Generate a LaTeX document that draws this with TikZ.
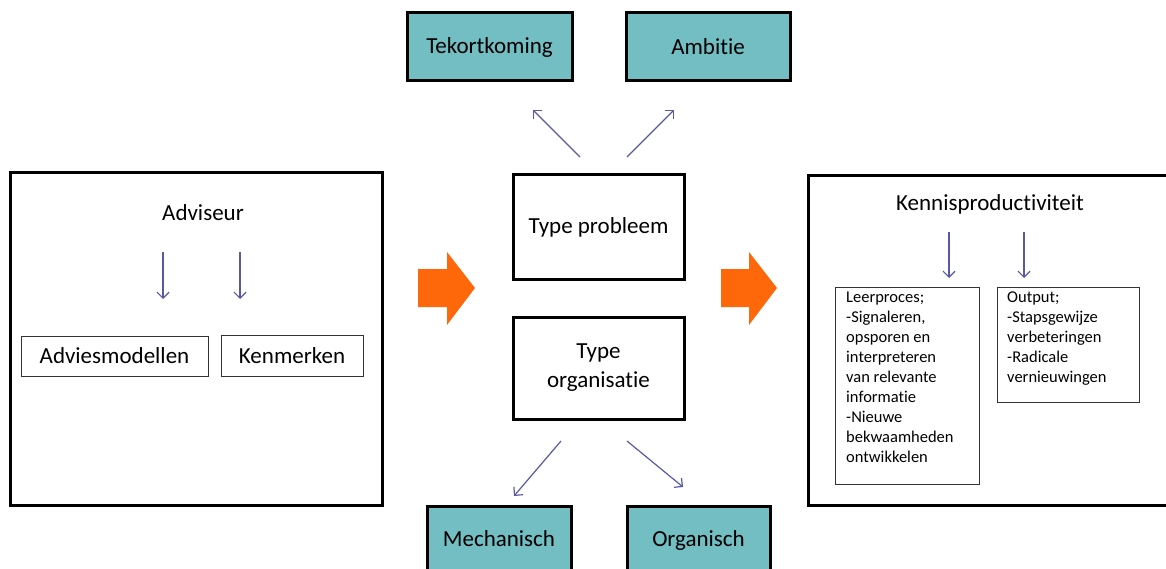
\documentclass[tikz,border=0pt]{standalone}
\usepackage{fontspec}
\setmainfont{Carlito}[Ligatures=NoCommon]
\usetikzlibrary{arrows.meta}
\definecolor{teal1}{RGB}{114,190,195}
\definecolor{arrblue}{RGB}{88,88,165}
\definecolor{orng}{RGB}{255,104,10}
\tikzset{
  tealbox/.style={draw=black, line width=3pt, fill=teal1, inner sep=0pt, font=\fontsize{23}{27}\selectfont},
  typebox/.style={draw=black, line width=3pt, fill=white, inner sep=0pt, align=center, font=\fontsize{23}{29}\selectfont},
  bigbox/.style={draw=black, line width=3pt, fill=white, inner sep=0pt},
  smallbox/.style={draw=black!80, line width=1pt, inner sep=0pt, font=\fontsize{23}{27}\selectfont},
  listbox/.style={draw=black!80, line width=1pt, inner sep=0pt, anchor=north west},
  listtext/.style={anchor=north west, inner sep=0pt, align=left, font=\fontsize{16.5}{20}\selectfont},
  blarrow/.style={draw=arrblue, line width=1.2pt, -{Straight Barb[length=6pt,width=12pt,line width=1.2pt]}},
  fatarrow/.style={fill=orng, draw=none},
  title/.style={font=\fontsize{23}{27}\selectfont, inner sep=0pt},
  btext/.style={font=\fontsize{23}{27}\selectfont, inner sep=0pt, anchor=base}
}
\begin{document}
\begin{tikzpicture}[x=1pt,y=-1pt]
\useasboundingbox (0,0) rectangle (1166,569);
% top boxes
\node[tealbox, minimum width=165pt, minimum height=68pt] (tek) at (489.5,47) {Tekortkoming};
\node[tealbox, minimum width=164pt, minimum height=68pt] (amb) at (708,47) {Ambitie};
% centre boxes
\node[typebox, minimum width=171pt, minimum height=104pt] (tp) at (598.5,227) {Type probleem};
\node[typebox, minimum width=171pt, minimum height=102pt] (to) at (598.5,368) {Type\\organisatie};
% bottom boxes
\node[tealbox, minimum width=144pt, minimum height=70pt, anchor=north] (mech) at (499,505) {};
\node[btext] (mecht) at (499,546) {Mechanisch};
\node[tealbox, minimum width=143pt, minimum height=70pt, anchor=north] (org) at (698.5,505) {};
\node[btext] (orgt) at (698.5,546) {Organisch};
% coordinates for arrow ends
\coordinate (u1s) at (580,157); \coordinate (u1e) at (533,110);
\coordinate (u2s) at (627,157); \coordinate (u2e) at (674,110);
\coordinate (d1s) at (561,441); \coordinate (d1e) at (514,496);
\coordinate (d2s) at (627,441); \coordinate (d2e) at (683,487);
\draw[blarrow] (u1s) -- (u1e);
\draw[blarrow] (u2s) -- (u2e);
\draw[blarrow] (d1s) -- (d1e);
\draw[blarrow] (d2s) -- (d2e);
% left big box
\node[bigbox, minimum width=372pt, minimum height=332pt] (left) at (196,339) {};
\node[title] (adv) at (203,213) {Adviseur};
\node[smallbox, minimum width=187pt, minimum height=40pt] (am) at (114.5,356) {Adviesmodellen};
\node[smallbox, minimum width=142pt, minimum height=41pt] (ken) at (292,355.5) {Kenmerken};
\coordinate (a1s) at (163,252); \coordinate (a1e) at (163,299);
\coordinate (a2s) at (240,252); \coordinate (a2e) at (240,299);
\draw[blarrow] (a1s) -- (a1e);
\draw[blarrow] (a2s) -- (a2e);
% right big box
\node[bigbox, minimum width=380pt, minimum height=330pt, anchor=north west] (right) at (807,174) {};
\node[title] (kp) at (990,204) {Kennisproductiviteit};
\node[listbox, minimum width=144pt, minimum height=197pt] (lp) at (835,287) {};
\node[listtext] (lpt) at (846,292) {Leerproces;\\-Signaleren,\\opsporen en\\interpreteren\\van relevante\\informatie\\-Nieuwe\\bekwaamheden\\ontwikkelen};
\node[listbox, minimum width=142pt, minimum height=115pt] (out) at (997,287) {};
\node[listtext] (outt) at (1007,292) {Output;\\-Stapsgewijze\\verbeteringen\\-Radicale\\vernieuwingen};
\coordinate (k1s) at (949,232); \coordinate (k1e) at (949,278);
\coordinate (k2s) at (1024,232); \coordinate (k2e) at (1024,278);
\draw[blarrow] (k1s) -- (k1e);
\draw[blarrow] (k2s) -- (k2e);
% orange block arrows
\fill[fatarrow] (418,269) -- (447,269) -- (447,252) -- (475,288) -- (447,325) -- (447,307) -- (418,307) -- cycle;
\fill[fatarrow] (721,269) -- (749,269) -- (749,252) -- (777,288) -- (749,325) -- (749,307) -- (721,307) -- cycle;
\end{tikzpicture}
\end{document}
